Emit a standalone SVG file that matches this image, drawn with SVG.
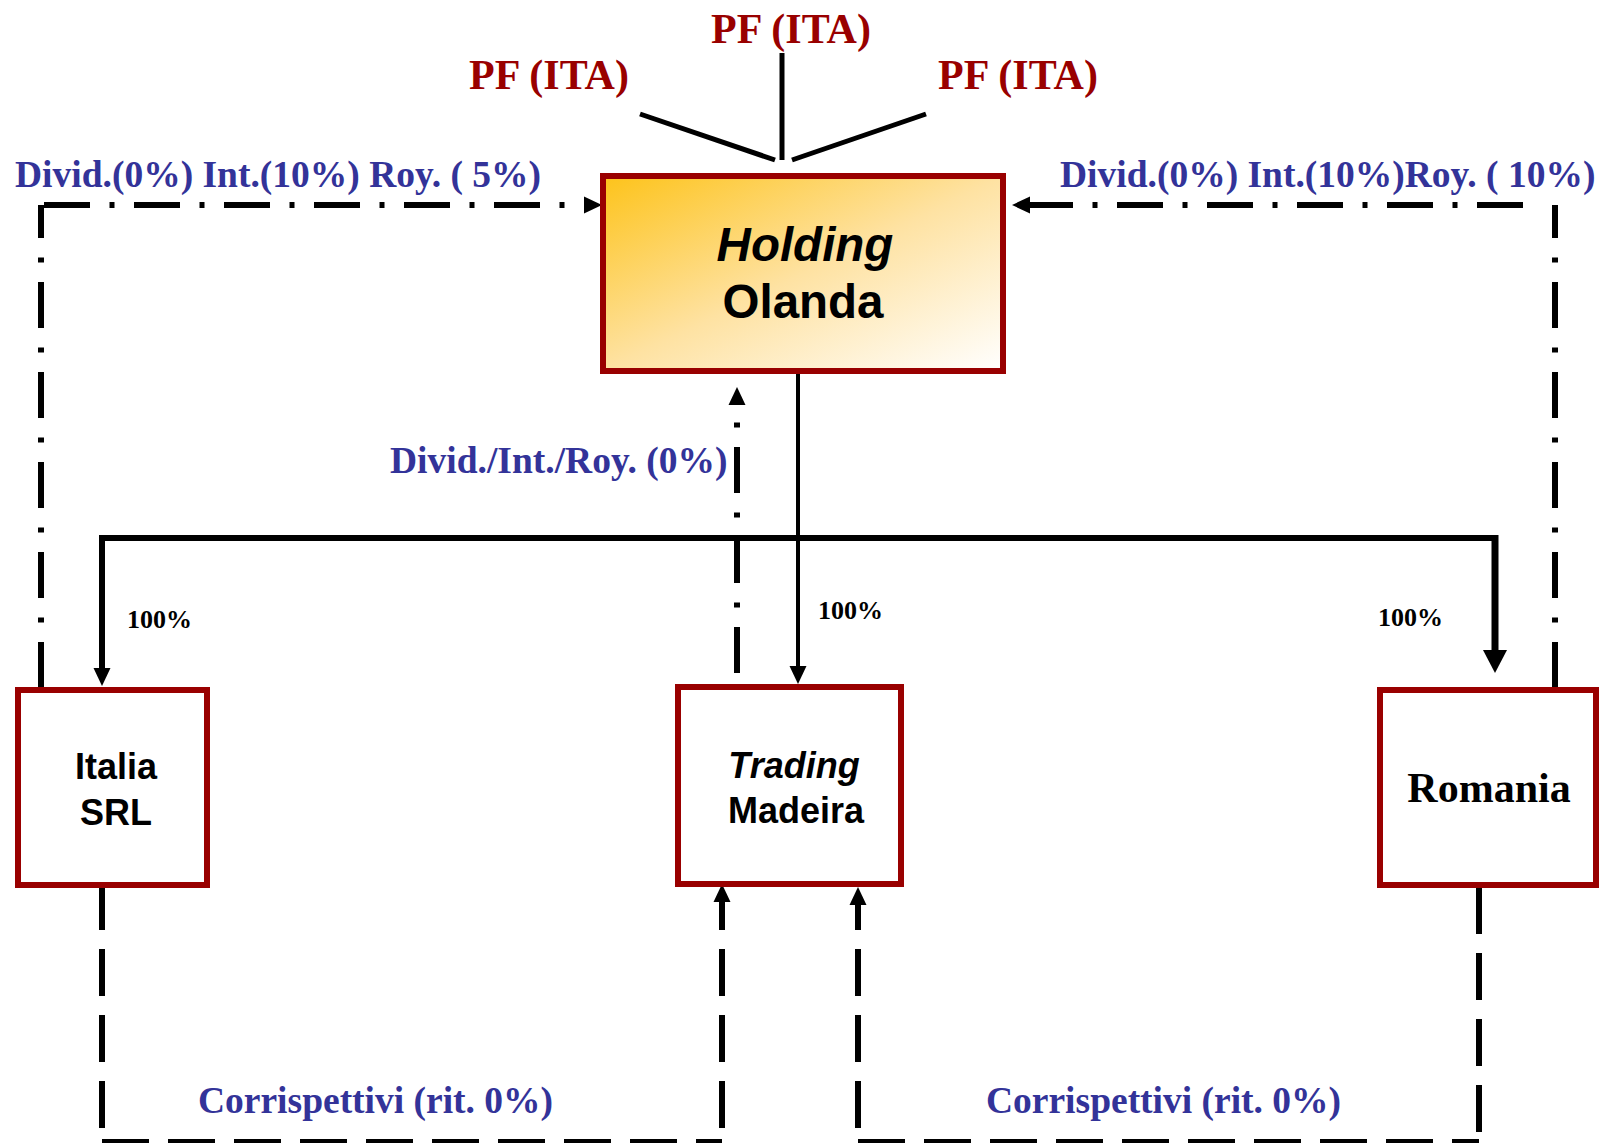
<svg xmlns="http://www.w3.org/2000/svg" width="1599" height="1143" viewBox="0 0 1599 1143">
<style>
.serif{font-family:"Liberation Serif","Times New Roman",serif;font-weight:bold}
.sans{font-family:"Liberation Sans",Arial,sans-serif;font-weight:bold;fill:#000}
.red{fill:#990000;font-size:42px}
.blue{fill:#333399;font-size:37.5px}
.pct{fill:#000;font-size:26px}
.box{fill:#fff;stroke:#990000;stroke-width:6}
.solid{fill:none;stroke:#000}
.dashdot{fill:none;stroke:#000;stroke-width:6;stroke-dasharray:46 19.5 5 19.5}
.dash{fill:none;stroke:#000;stroke-width:6;stroke-dasharray:47 19}
</style>
<defs>
<linearGradient id="gold" x1="0" y1="0" x2="1" y2="1">
<stop offset="0" stop-color="#FDC31A"/>
<stop offset="0.5" stop-color="#FEE2A2"/>
<stop offset="1" stop-color="#FFFFFF"/>
</linearGradient>
<marker id="arr" markerUnits="userSpaceOnUse" markerWidth="20" markerHeight="20" refX="0" refY="0" orient="auto" overflow="visible">
<path d="M0,-8.5 L18,0 L0,8.5 z" fill="#000"/>
</marker>
<marker id="arrBig" markerUnits="userSpaceOnUse" markerWidth="26" markerHeight="26" refX="0" refY="0" orient="auto" overflow="visible">
<path d="M0,-12 L23,0 L0,12 z" fill="#000"/>
</marker>
</defs>
<rect width="1599" height="1143" fill="#fff"/>

<g id="connectors">
<line class="solid" stroke-width="5" x1="782" y1="53" x2="782" y2="160"/>
<line class="solid" stroke-width="5" x1="640" y1="114" x2="775" y2="160"/>
<line class="solid" stroke-width="5" x1="926" y1="114" x2="792" y2="160"/>
<path class="solid" stroke-width="4" d="M798,374 V666" marker-end="url(#arr)"/>
<path class="solid" stroke-width="6" d="M102,538 H1495"/>
<path class="solid" stroke-width="6" d="M102,535 V668" marker-end="url(#arr)"/>
<path class="solid" stroke-width="7" d="M1495,535 V650" marker-end="url(#arrBig)"/>
<path class="dashdot" d="M41,688 V205"/>
<path class="dashdot" stroke-dashoffset="87" d="M41,205 H584" marker-end="url(#arr)"/>
<path class="dashdot" d="M1555,688 V205"/>
<path class="dashdot" d="M1523,205 H1030" marker-end="url(#arr)"/>
<path class="dashdot" d="M737,673 V405" marker-end="url(#arr)"/>
<path class="dash" d="M102,883 V1142"/>
<path class="dash" d="M102,1142 H722"/>
<path class="dash" stroke-dashoffset="52" d="M722,1142 V902" marker-end="url(#arr)"/>
<path class="dash" d="M1479,887 V1142"/>
<path class="dash" d="M858,1142 H1479"/>
<path class="dash" stroke-dashoffset="52" d="M858,1142 V905" marker-end="url(#arr)"/>
</g>

<g id="labels">
<text class="serif red" x="791" y="43" text-anchor="middle">PF (ITA)</text>
<text class="serif red" x="549" y="89" text-anchor="middle">PF (ITA)</text>
<text class="serif red" x="1018" y="89" text-anchor="middle">PF (ITA)</text>
<text class="serif blue" x="15" y="187">Divid.(0%) Int.(10%) Roy. ( 5%)</text>
<text class="serif blue" x="1060" y="187">Divid.(0%) Int.(10%)Roy. ( 10%)</text>
<text class="serif blue" x="390" y="473">Divid./Int./Roy. (0%)</text>
<text class="serif blue" x="198" y="1113">Corrispettivi (rit. 0%)</text>
<text class="serif blue" x="986" y="1113">Corrispettivi (rit. 0%)</text>
<text class="serif pct" x="127" y="628">100%</text>
<text class="serif pct" x="818" y="619">100%</text>
<text class="serif pct" x="1378" y="626">100%</text>
</g>

<g id="holding">
<rect x="603" y="176" width="400" height="195" fill="url(#gold)" stroke="#990000" stroke-width="6"/>
<text class="sans" x="805" y="261" font-size="47.5" font-style="italic" text-anchor="middle">Holding</text>
<text class="sans" x="803" y="318" font-size="47.5" text-anchor="middle">Olanda</text>
</g>

<g id="italia">
<rect class="box" x="18" y="690" width="189" height="195"/>
<text class="sans" x="116" y="779" font-size="36" text-anchor="middle">Italia</text>
<text class="sans" x="116" y="825" font-size="36" text-anchor="middle">SRL</text>
</g>

<g id="trading">
<rect class="box" x="678" y="687" width="223" height="197"/>
<text class="sans" x="794" y="778" font-size="36" font-style="italic" text-anchor="middle">Trading</text>
<text class="sans" x="796" y="823" font-size="36" text-anchor="middle">Madeira</text>
</g>

<g id="romania">
<rect class="box" x="1380" y="690" width="216" height="195"/>
<text class="serif" x="1489" y="802" font-size="42" fill="#000" text-anchor="middle">Romania</text>
</g>
</svg>
